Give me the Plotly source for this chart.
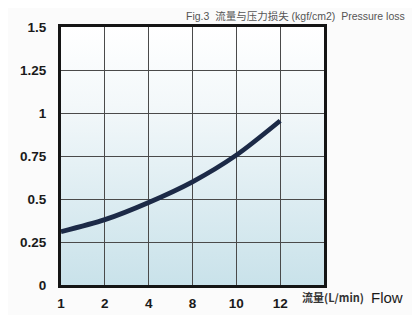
import base64
import plotly.graph_objects as go

# Data
flow_labels = ["1", "2", "4", "8", "10", "12"]
pressure_loss = [0.31, 0.38, 0.48, 0.60, 0.755, 0.955]
y_ticks = [0, 0.25, 0.5, 0.75, 1, 1.25, 1.5]
y_tick_text = ["0", "0.25", "0.5", "0.75", "1", "1.25", "1.5"]

# gradient background image for the plot area
svg = (
    '<svg xmlns="http://www.w3.org/2000/svg" width="100" height="100" preserveAspectRatio="none">'
    '<defs><linearGradient id="g" x1="0" y1="0" x2="0" y2="1">'
    '<stop offset="0" stop-color="#ffffff"/>'
    '<stop offset="0.3" stop-color="#f3f8fa"/>'
    '<stop offset="1" stop-color="#c9e2ea"/>'
    '</linearGradient></defs>'
    '<rect width="100" height="100" fill="url(#g)"/></svg>'
)
bg_src = "data:image/svg+xml;base64," + base64.b64encode(svg.encode()).decode()

fig = go.Figure()
fig.add_trace(go.Scatter(
    x=flow_labels, y=pressure_loss, mode="lines",
    line=dict(color="#1c2a47", width=4.8, shape="spline", smoothing=0.8),
    hoverinfo="skip", showlegend=False,
))

tick_font = dict(size=13.5, family="Liberation Sans", weight="bold", color="#1a1a1a")

fig.update_layout(
    width=420, height=315,
    margin=dict(l=49, r=104, t=17, b=26),
    paper_bgcolor="#fbfbfb",
    plot_bgcolor="rgba(0,0,0,0)",
    font=dict(family="Liberation Sans, Arial", color="#1a1a1a"),
    images=[dict(source=bg_src, xref="paper", yref="paper", x=0, y=1,
                 sizex=1, sizey=1, xanchor="left", yanchor="top",
                 sizing="stretch", layer="below")],
    xaxis=dict(
        type="category", categoryorder="array", categoryarray=flow_labels,
        range=[0, 6], showgrid=True, gridcolor="#4a4a4a", gridwidth=1.3,
        showline=True, linecolor="#151515", linewidth=3, mirror=True,
        ticks="", tickfont=tick_font,
        ticklabelstandoff=4, zeroline=False,
    ),
    yaxis=dict(
        range=[0, 1.5], tickvals=y_ticks, ticktext=y_tick_text,
        showgrid=True, gridcolor="#4a4a4a", gridwidth=1.3,
        showline=True, linecolor="#151515", linewidth=3, mirror=True,
        ticks="", tickfont=tick_font,
        ticklabelstandoff=9, zeroline=False,
    ),
    annotations=[
        dict(text="<b>流量(L/min)</b>", xref="paper", yref="paper",
             x=(292 - 49) / 267, y=-13 / 272, xanchor="left", yanchor="middle",
             showarrow=False, font=dict(size=11, color="#333333",
                                        family="Noto Sans CJK SC, Liberation Sans")),
        dict(text="Flow", xref="paper", yref="paper",
             x=(362 - 49) / 267, y=-13 / 272, xanchor="left", yanchor="middle",
             showarrow=False, font=dict(size=15, color="#1a1a1a", family="Liberation Sans")),
        dict(text="Fig.3  流量与压力损失 (kgf/cm2)  Pressure loss", xref="paper", yref="paper",
             x=(400 - 49) / 267, y=1 + 3 / 272, xanchor="right", yanchor="bottom",
             showarrow=False, font=dict(size=10.5, color="#555555",
                                        family="Liberation Sans, Noto Sans CJK SC")),
    ],
)

fig.write_html("out.html")
